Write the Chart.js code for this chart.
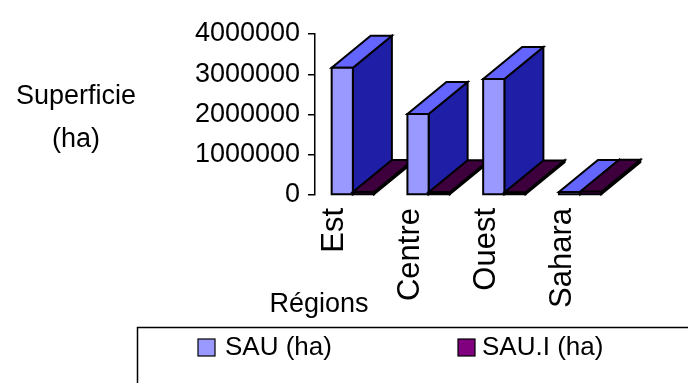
<!DOCTYPE html>
<html>
<head>
<meta charset="utf-8">
<script src="https://cdn.jsdelivr.net/npm/chart.js@4.4.1/dist/chart.umd.min.js"></script>
<style>
  body { margin: 0; background: #fff; }
  #wrap { width: 688px; height: 383px; position: relative; }
</style>
</head>
<body>
<div id="wrap"><canvas id="chart"></canvas></div>
<script>
// data
const regions = ['Est', 'Centre', 'Ouest', 'Sahara'];
const sauValues = [3160000, 2010000, 2880000, 75000];
const sauiValues = [75000, 70000, 65000, 80000];
const yTicks = [0, 1000000, 2000000, 3000000, 4000000];

const FONT = "'Liberation Sans', Arial, sans-serif";
const DX = 39, DY = -32; // depth of the 3d bars

// front / top / side colours per series
const faces = [
    { front: '#9999FF', top: '#6464FF', side: '#1E1EA6' },
    { front: '#800080', top: '#3D003D', side: '#1A001A' },
];

function poly(ctx, pts, fill) {
    ctx.beginPath();
    ctx.moveTo(pts[0][0], pts[0][1]);
    for (let i = 1; i < pts.length; i++) ctx.lineTo(pts[i][0], pts[i][1]);
    ctx.closePath();
    ctx.fillStyle = fill;
    ctx.fill();
    ctx.stroke();
}

const bars3d = {
    id: 'bars3d',
    afterDatasetsDraw(chart) {
        const ctx = chart.ctx;
        ctx.save();
        ctx.strokeStyle = '#000';
        ctx.lineWidth = 2;
        ctx.lineJoin = 'miter';
        for (let i = 0; i < regions.length; i++) {
            chart.data.datasets.forEach((ds, d) => {
                const bar = chart.getDatasetMeta(d).data[i];
                const { x, y, base, width } = bar.getProps(['x', 'y', 'base', 'width'], true);
                const l = x - width / 2, r = x + width / 2;
                const c = faces[d];
                poly(ctx, [[r, y], [r + DX, y + DY], [r + DX, base + DY], [r, base]], c.side);
                poly(ctx, [[l, y], [r, y], [r + DX, y + DY], [l + DX, y + DY]], c.top);
                poly(ctx, [[l, y], [r, y], [r, base], [l, base]], c.front);
            });
        }
        ctx.restore();
    }
};

const extras = {
    id: 'extras',
    afterDraw(chart) {
        const ctx = chart.ctx;
        ctx.save();
        ctx.fillStyle = '#000';
        ctx.font = '27px ' + FONT;
        ctx.textAlign = 'center';
        ctx.textBaseline = 'middle';
        ctx.fillText('Superficie', 76, 97);
        ctx.fillText('(ha)', 76, 140);
        ctx.fillText('Régions', 319, 305);

        // legend box
        ctx.strokeStyle = '#000';
        ctx.lineWidth = 1.5;
        ctx.strokeRect(137.5, 327.5, 600, 80);
        const items = [[198, 225], [458, 482]];
        ctx.font = '26px ' + FONT;
        ctx.textAlign = 'left';
        chart.data.datasets.forEach((ds, d) => {
            const [bx, tx] = items[d];
            ctx.fillStyle = ds.backgroundColor;
            ctx.fillRect(bx, 339, 17, 17);
            ctx.lineWidth = 1.2;
            ctx.strokeRect(bx, 339, 17, 17);
            ctx.fillStyle = '#000';
            ctx.fillText(ds.label, tx, 348);
        });
        ctx.restore();
    }
};

new Chart(document.getElementById('chart'), {
    type: 'bar',
    data: {
        labels: regions,
        datasets: [
            { label: 'SAU (ha)', data: sauValues, backgroundColor: faces[0].front },
            { label: 'SAU.I (ha)', data: sauiValues, backgroundColor: faces[1].front },
        ],
    },
    options: {
        responsive: true,
        maintainAspectRatio: false,
        animation: false,
        categoryPercentage: 0.56,
        barPercentage: 1.0,
        layout: { padding: { top: 34, right: 70, bottom: 56, left: 0 } },
        plugins: {
            legend: { display: false },
            tooltip: { enabled: false },
        },
        scales: {
            x: {
                grid: { display: false, drawTicks: false },
                border: { display: false },
                ticks: {
                    color: '#000',
                    font: { family: FONT, size: 31 },
                    minRotation: 90,
                    maxRotation: 90,
                    autoSkip: false,
                    padding: 13,
                    labelOffset: -18,
                },
                afterFit(scale) { scale.height = 132; },
            },
            y: {
                min: 0,
                max: 4000000,
                afterBuildTicks(scale) { scale.ticks = yTicks.map(v => ({ value: v })); },
                grid: { drawOnChartArea: false, color: '#000', lineWidth: 1.5, tickLength: 7 },
                border: { display: true, color: '#000', width: 1.5 },
                ticks: {
                    color: '#000',
                    font: { family: FONT, size: 27 },
                    padding: 8,
                    callback: v => String(v),
                },
                afterFit(scale) { scale.width = 315; },
            },
        },
    },
    plugins: [bars3d, extras],
});
</script>
</body>
</html>
